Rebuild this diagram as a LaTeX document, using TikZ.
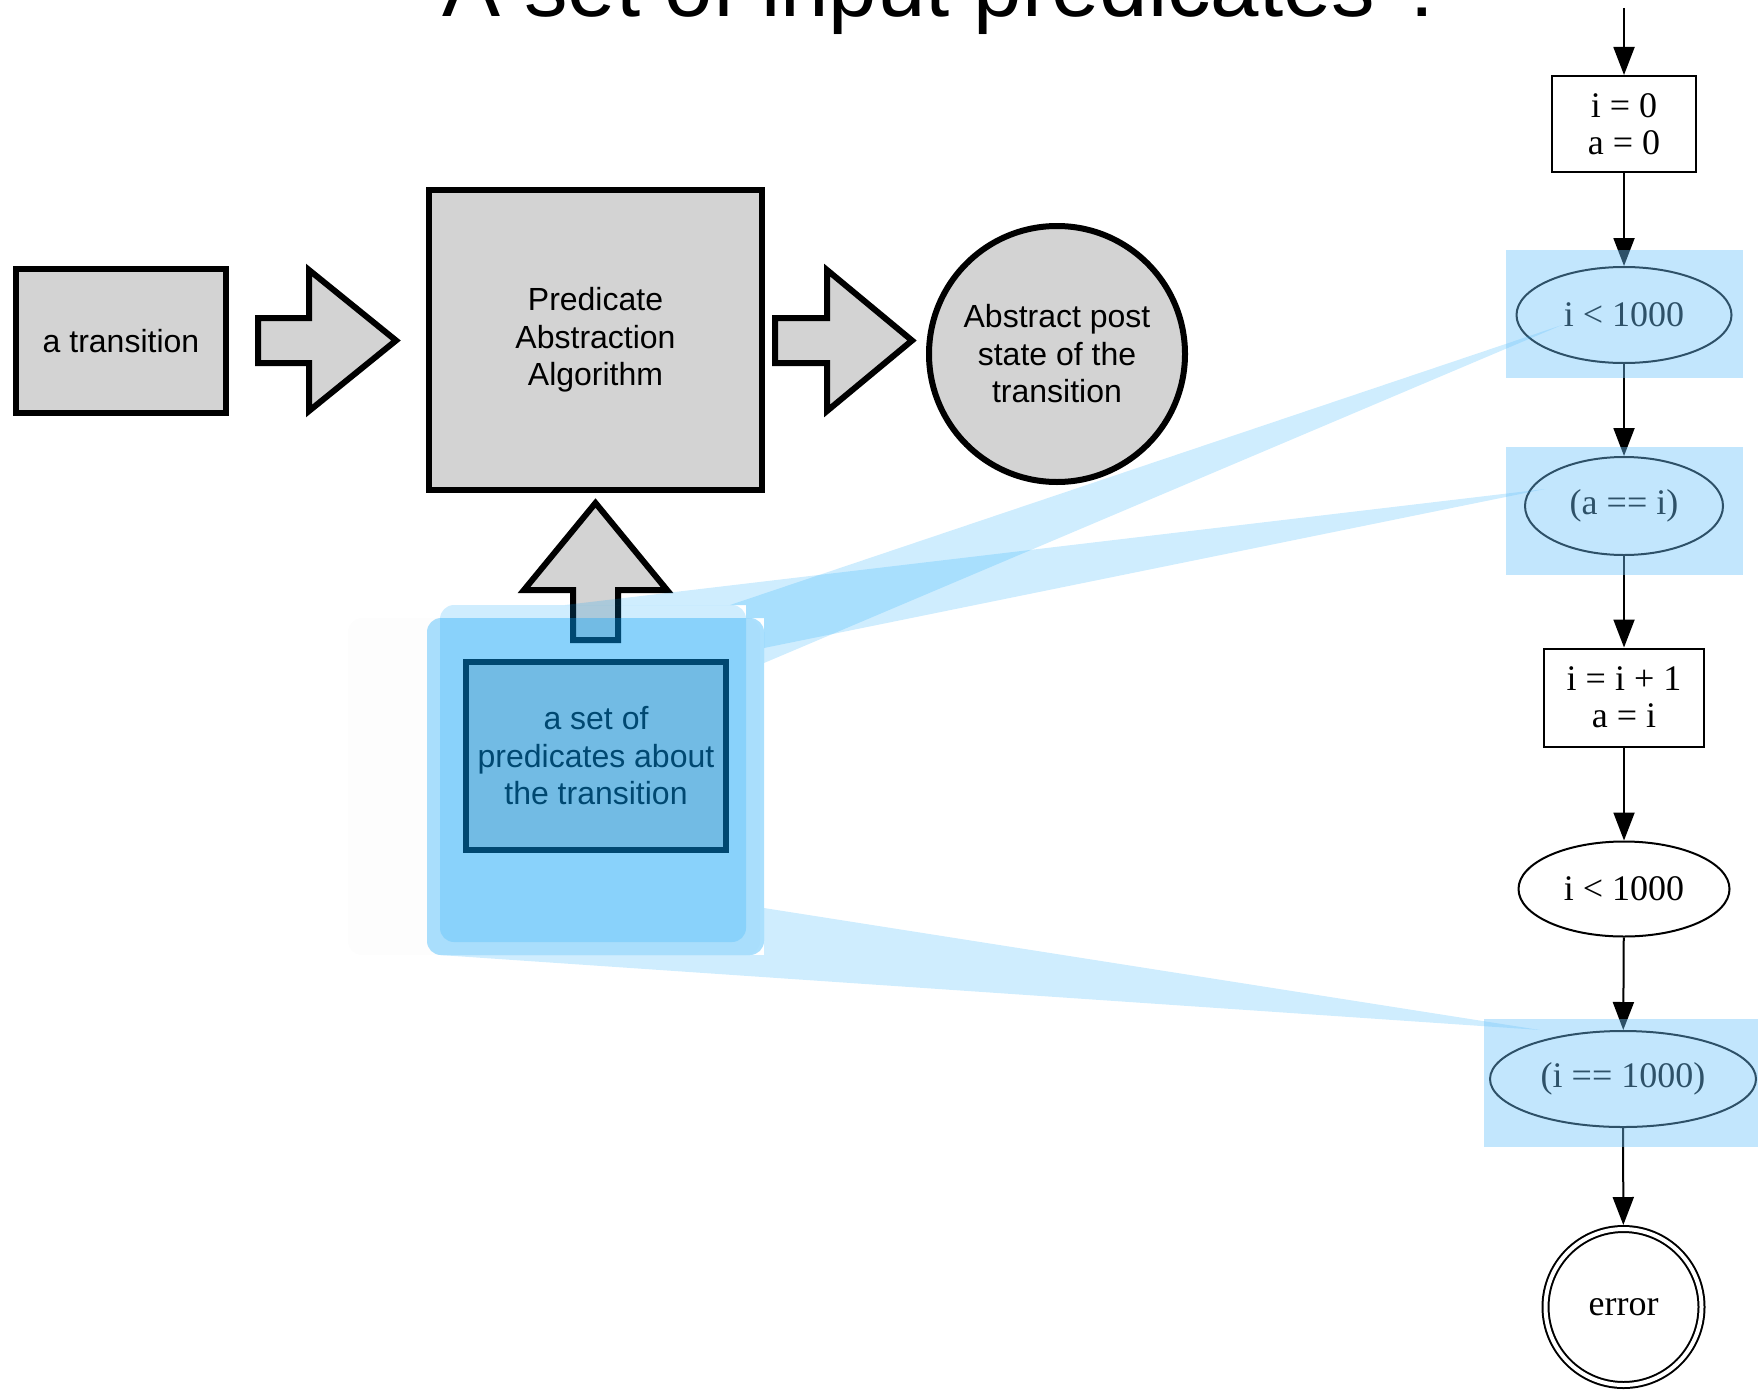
\documentclass[tikz,border=0pt]{standalone}
\usepackage{fontspec}
\setmainfont{Liberation Serif}
\setsansfont{Liberation Sans}
\usetikzlibrary{arrows.meta,shapes.geometric}

\definecolor{keygray}{HTML}{D3D3D3}
\definecolor{glow}{RGB}{0,160,250}
\definecolor{spot}{RGB}{110,195,250}

\begin{document}
\begin{tikzpicture}[x=1pt,y=-1pt,
  panel/.style={draw=black, line width=6pt, fill=keygray, miter limit=10},
  captxt/.style={font=\sffamily\fontsize{32}{37.5}\selectfont, align=center},
  stmt/.style={draw, line width=2pt, rectangle, inner sep=0pt,
    font=\rmfamily\fontsize{36}{37}\selectfont, align=center},
  cond/.style={draw, line width=2pt, ellipse, inner sep=0pt,
    font=\rmfamily\fontsize{36}{37}\selectfont},
  flow/.style={line width=2pt, -{Triangle[length=28pt,width=21pt]}},
  beam/.style={fill=glow, fill opacity=0.19},
  spotlight/.style={fill=spot, fill opacity=0.42},
]
\useasboundingbox (0,0) rectangle (1758,1389);

% heading
\node[anchor=base, inner sep=0, font=\sffamily\fontsize{87}{90}\selectfont]
  (title) at (945,17) {A set of input predicates ?};

% faint drop shadow of the highlighted group
\fill[black!0.8, rounded corners=14] (348,618) rectangle (760,955);

% abstraction pipeline
\node[panel, captxt, minimum width=210, minimum height=144, inner sep=0]
  (trans) at (121,341) {a transition};
\node[panel, captxt, minimum width=333, minimum height=300, inner sep=0]
  (algo) at (595.5,340) {Predicate\\Abstraction\\Algorithm};
\node[panel, captxt, circle, minimum size=256, inner sep=0]
  (post) at (1057,354) {Abstract post\\state of the\\transition};
\node[panel, captxt, minimum width=260, minimum height=188, inner sep=0]
  (preds) at (596,756) {a set of\\predicates about\\the transition};

% block arrows
\draw[panel] (258,318) -- (309,318) -- (309,270) -- (396,340.5) -- (309,411)
  -- (309,363) -- (258,363) -- cycle;
\draw[panel] (775,318) -- (827,318) -- (827,270) -- (912,340.5) -- (827,411)
  -- (827,363) -- (775,363) -- cycle;
\draw[panel] (573,640) -- (573,590) -- (524,590) -- (595.5,503) -- (667,590)
  -- (618,590) -- (618,640) -- cycle;

% control-flow graph
\coordinate (entry) at (1624,8);
\node[stmt, minimum width=144, minimum height=96] (init) at (1624,124) {i = 0\\a = 0};
\node[cond, minimum width=215, minimum height=96] (c1) at (1624,315) {i < 1000};
\node[cond, minimum width=198, minimum height=98] (c2) at (1624,506) {(a == i)};
\node[stmt, minimum width=160, minimum height=98] (incr) at (1624,697.5) {i = i + 1\\a = i};
\node[cond, minimum width=211, minimum height=95] (c3) at (1624,889) {i < 1000};
\node[cond, minimum width=266, minimum height=96] (c4) at (1623,1079) {(i == 1000)};
\node[circle, draw, line width=2pt, double, double distance=4pt, minimum size=156,
  inner sep=0, outer sep=4pt, font=\rmfamily\fontsize{36}{37}\selectfont]
  (err) at (1623.5,1307) {error};

\draw[flow] (entry) -- (init);
\draw[flow] (init) -- (c1);
\draw[flow] (c1) -- (c2);
\draw[flow] (c2) -- (incr);
\draw[flow] (incr) -- (c3);
\draw[flow] (c3) -- (c4);
\draw[flow] (c4) -- (err);

% translucent highlight around the predicate set
\fill[glow, fill opacity=0.19, rounded corners=14] (440,605) rectangle (746,942);
\fill[glow, fill opacity=0.33, rounded corners=14] (427,618) rectangle (764,955);

% beams to the predicates in the graph
\fill[beam] (730,605) -- (1562,325) -- (764,663) -- (764,618) -- (746,618)
  -- (746,605) -- cycle;
\fill[beam] (565,605) -- (1545,489) -- (764,648) -- (764,618) -- (746,618)
  -- (746,605) -- cycle;
\fill[beam] (764,908) -- (1540,1030) -- (440,955) -- (764,955) -- cycle;

% highlighted predicates
\fill[spotlight] (1506,250) rectangle (1743,378);
\fill[spotlight] (1506,447) rectangle (1743,575);
\fill[spotlight] (1484,1019) rectangle (1758,1147);
\end{tikzpicture}
\end{document}
